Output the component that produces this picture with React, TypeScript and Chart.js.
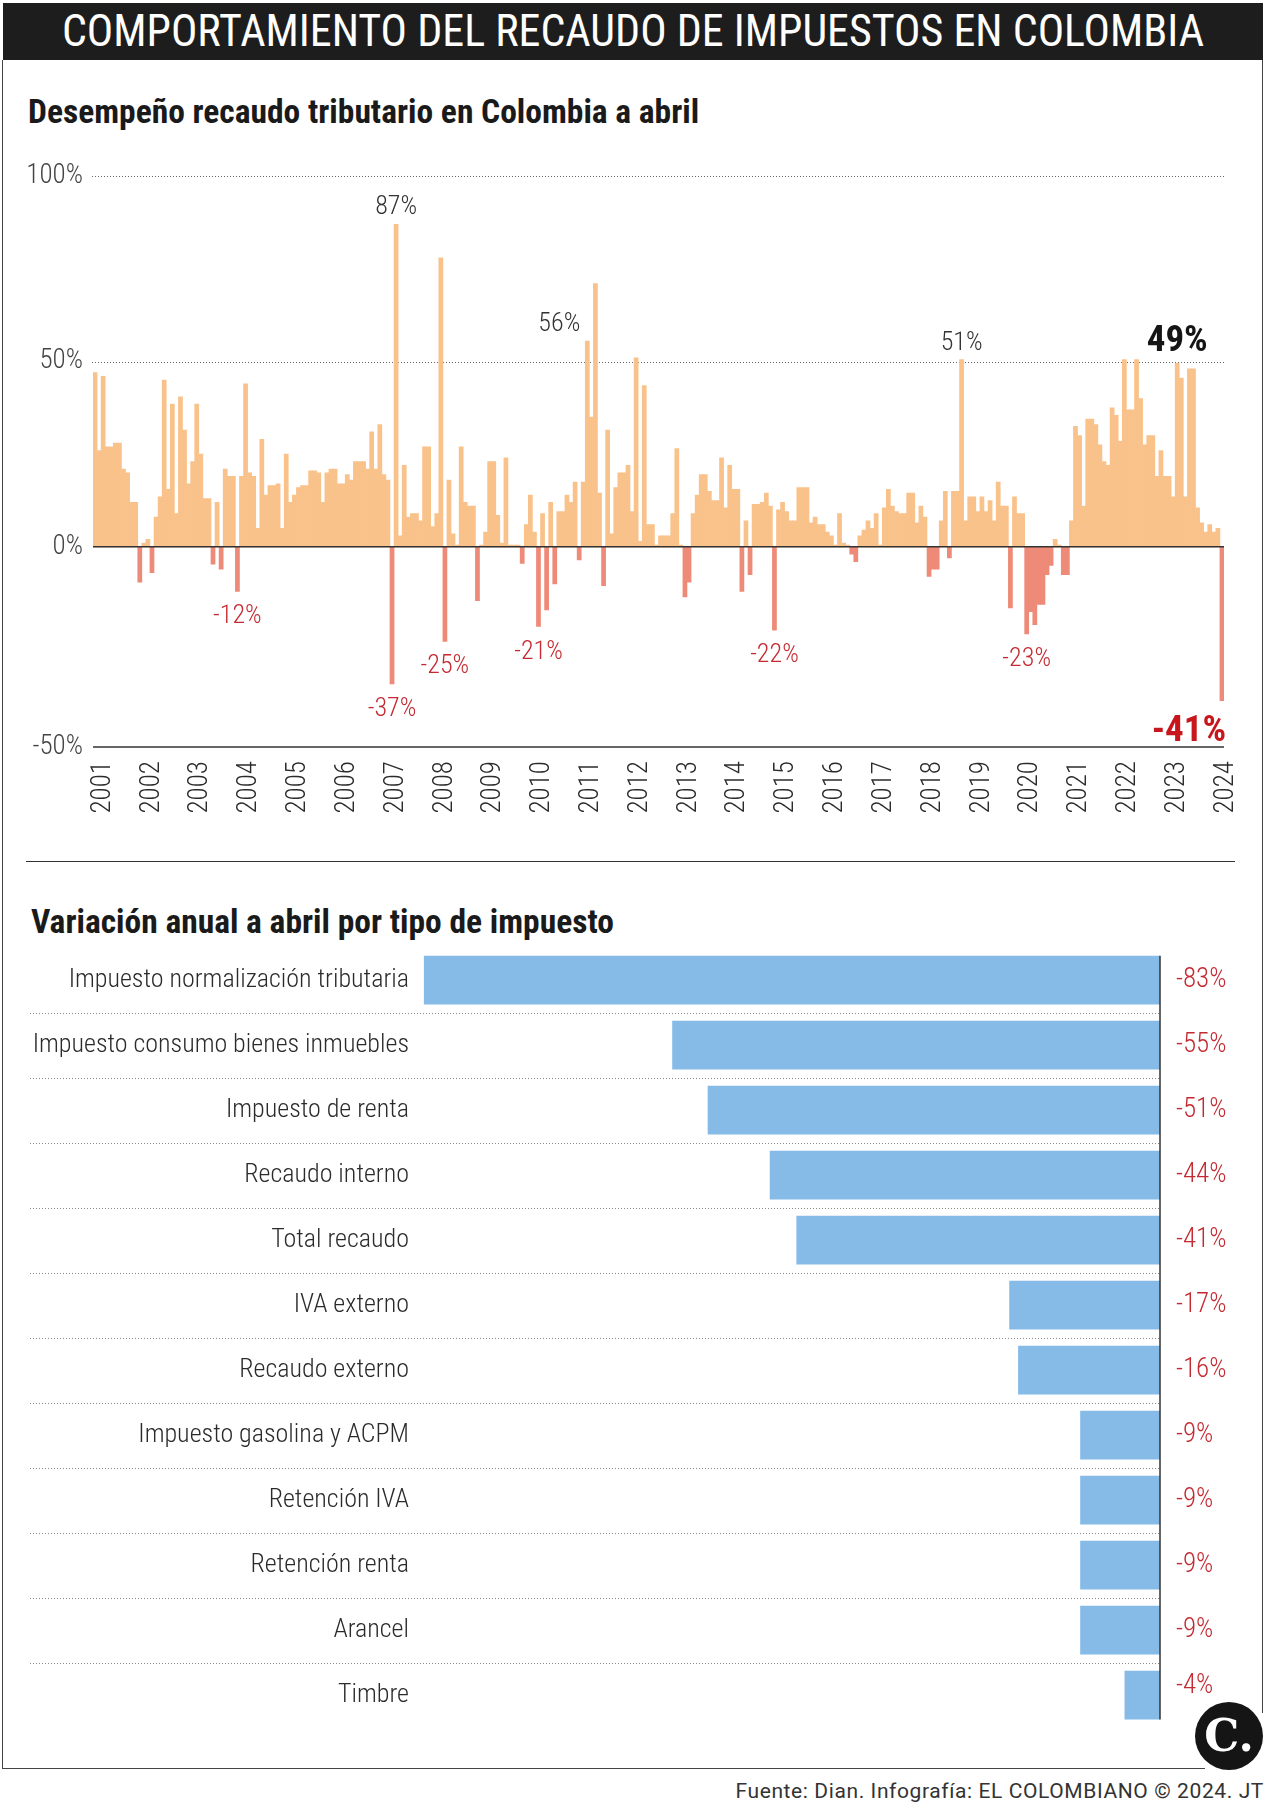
import React, { useEffect, useRef } from 'react';
import { Chart, registerables } from 'chart.js';

Chart.register(...registerables);

// ---------- DATA: monthly annual variation (%) of tax collection ----------
const years = [2001, 2002, 2003, 2004, 2005, 2006, 2007, 2008, 2009, 2010, 2011, 2012, 2013, 2014, 2015, 2016, 2017, 2018, 2019, 2020, 2021, 2022, 2023, 2024];
const v2001 = [47, 26, 46, 27, 27, 28, 28, 21, 20, 12, 12, -9.5];
const v2002 = [1, 2, -7, 8, 13.5, 45, 15.5, 38.5, 9, 40.5, 31.5, 17];
const v2003 = [23, 38.5, 25, 13, 13, -4.7, 12, -6, 21, 19, 19, -12];
const v2004 = [19, 44, 20, 19, 5, 29, 14, 16.5, 16.5, 17, 5, 25];
const v2005 = [12, 14, 16, 16.5, 16.5, 20.5, 20.5, 20, 12, 20, 21, 21];
const v2006 = [17, 17, 19.5, 18, 23, 23, 23, 21, 31, 21, 33, 19.5];
const v2007 = [18, -37, 87, 3, 22, 8, 9, 9, 7, 27, 27, 5.5];
const v2008 = [9, 78, -25.5, 18, 3.5, 0.5, 27, 12, 11, 11, -14.5, 0.5];
const v2009 = [4, 23, 23, 8.5, 1, 24, 0.5, 0.5, 0.5, -4.5, 6, 14];
const v2010 = [4, -21.5, 9, -17, 12, -10, 9.5, 9.5, 14, 12, 17.5, -3.5];
const v2011 = [17.5, 55.5, 35, 71, 14.5, -10.5, 31.5, 3.5, 16, 20, 20, 22];
const v2012 = [9.5, 51, 1.5, 43.5, 6, 6, 0.5, 3, 3, 3, 9, 26.5];
const v2013 = [0.5, -13.5, -9.5, 9, 14, 19.5, 19.5, 15, 12.5, 12.5, 24, 10.5];
const v2014 = [22, 15.5, 15.5, -12, 7, -7.5, 11.5, 11.5, 12, 14.5, 11, -22.5];
const v2015 = [10, 12, 9.5, 7, 7, 16, 16, 16, 6.5, 8, 6, 6];
const v2016 = [4, 3, 0.5, 9, 1, 0.5, -2, -4, 3, 4.5, 7, 5];
const v2017 = [9, 0.5, 10.5, 15.5, 11, 9.5, 9, 9, 14.5, 14.5, 6.5, 11];
const v2018 = [8, -8, -6, -6, 7, 15, -3, 15, 15, 50.5, 7, 13.5];
const v2019 = [13.5, 9.5, 13.5, 9.5, 12.5, 7, 17.5, 11, 11, -16.5, 13.5, 9];
const v2020 = [9, -23.5, -17.5, -21, -15.5, -15.5, -7.5, -5, 2, 0.5, -7.5, -7.5];
const v2021 = [7, 32.5, 30, 11, 34.5, 34.5, 33, 27.5, 23, 22, 37.5, 35.5];
const v2022 = [28.5, 50.5, 37, 37, 50.5, 40, 27.5, 30, 30, 19, 26, 19];
const v2023 = [19, 13.5, 49.5, 45.5, 13.5, 48, 48, 10.5, 6.5, 4, 6, 4];
const v2024 = [5, -41.5];
const monthlyByYear = [v2001, v2002, v2003, v2004, v2005, v2006, v2007, v2008, v2009, v2010, v2011, v2012, v2013, v2014, v2015, v2016, v2017, v2018, v2019, v2020, v2021, v2022, v2023, v2024];

// highlighted bars (year, month index within the year array)
const notes = [
  { year: 2007, m: 2, text: '87%' },
  { year: 2011, m: 1, text: '56%' },
  { year: 2018, m: 9, text: '51%' },
  { year: 2023, m: 2, text: '49%' },
  { year: 2003, m: 11, text: '-12%' },
  { year: 2007, m: 1, text: '-37%' },
  { year: 2008, m: 2, text: '-25%' },
  { year: 2010, m: 1, text: '-21%' },
  { year: 2014, m: 11, text: '-22%' },
  { year: 2020, m: 1, text: '-23%' },
  { year: 2024, m: 1, text: '-41%' },
];

const yTicks = [-54, 0, 50, 100];

// ---------- DATA: variation by tax type ----------
const taxCategories = [
  'Impuesto normalización tributaria',
  'Impuesto consumo bienes inmuebles',
  'Impuesto de renta',
  'Recaudo interno',
  'Total recaudo',
  'IVA externo',
  'Recaudo externo',
  'Impuesto gasolina y ACPM',
  'Retención IVA',
  'Retención renta',
  'Arancel',
  'Timbre',
];
const taxValues = [-83, -55, -51, -44, -41, -17, -16, -9, -9, -9, -9, -4];

// ---------- STYLE ----------
const COND = "'Roboto Condensed', 'Liberation Sans Narrow', 'DejaVu Sans Condensed', Roboto, sans-serif";
const POS = '#f9c28b';
const NEG = '#ee8a78';
const BLUE = '#86bbe8';
const DARK = '#2b2b2b';
const RED = '#c42a32';

function TrendChart() {
  const ref = useRef<HTMLCanvasElement>(null);
  useEffect(() => {
    const values = monthlyByYear.flat();
    const labels = monthlyByYear.flatMap((arr, k) => arr.map(() => String(years[k])));
    const starts: number[] = [];
    let acc = 0;
    monthlyByYear.forEach((arr) => { starts.push(acc); acc += arr.length; });
    const yearStartSet = new Set(starts);

    const gridPlugin = {
      id: 'grid',
      beforeDatasetsDraw(chart: any) {
        const { ctx, chartArea, scales } = chart;
        ctx.save();
        ctx.strokeStyle = '#666';
        ctx.lineWidth = 1;
        ctx.setLineDash([1, 2]);
        [100, 50].forEach((v) => {
          const y = Math.round(scales.y.getPixelForValue(v)) + 0.5;
          ctx.beginPath();
          ctx.moveTo(chartArea.left - 1, y);
          ctx.lineTo(chartArea.right, y);
          ctx.stroke();
        });
        ctx.restore();
      },
      afterDatasetsDraw(chart: any) {
        const { ctx, chartArea, scales } = chart;
        ctx.save();
        ctx.strokeStyle = '#333';
        ctx.lineWidth = 1.5;
        [0, yTicks[0]].forEach((v) => {
          const y = scales.y.getPixelForValue(v);
          ctx.beginPath();
          ctx.moveTo(chartArea.left, y);
          ctx.lineTo(chartArea.right, y);
          ctx.stroke();
        });
        // annotations
        notes.forEach((n) => {
          const k = years.indexOf(n.year);
          const idx = starts[k] + n.m;
          const v = monthlyByYear[k][n.m];
          const el = chart.getDatasetMeta(0).data[idx];
          const x = el.x;
          const yv = scales.y.getPixelForValue(v);
          const bold = n.year === 2023 || n.year === 2024;
          const neg = v < 0;
          ctx.font = bold ? `700 37px ${COND}` : `300 26px ${COND}`;
          ctx.fillStyle = neg ? (bold ? '#c8161d' : RED) : (bold ? '#151515' : '#333');
          ctx.textBaseline = 'alphabetic';
          let tx = x;
          ctx.textAlign = 'center';
          if (n.year === 2011) tx = x - 28;
          if (n.year === 2024) { ctx.textAlign = 'right'; tx = chartArea.right + 2; }
          const ty = neg ? yv + (bold ? 40 : 32) : yv - (bold ? 12 : 10);
          ctx.fillText(n.text, tx, ty);
        });
        ctx.restore();
      },
    };

    const font = { family: COND, size: 27, weight: '300' as any };
    const chart = new Chart(ref.current as HTMLCanvasElement, {
      type: 'bar',
      data: {
        labels,
        datasets: [{
          data: values,
          backgroundColor: values.map((v) => (v < 0 ? NEG : POS)),
          borderWidth: 0,
          barPercentage: 1,
          categoryPercentage: 1,
        }],
      },
      options: {
        animation: false,
        responsive: false,
        maintainAspectRatio: false,
        layout: { padding: { left: 0, right: 46, top: 23, bottom: 0 } },
        plugins: { legend: { display: false }, tooltip: { enabled: false } },
        scales: {
          x: {
            grid: { display: false, drawTicks: false },
            border: { display: false },
            ticks: {
              autoSkip: false,
              maxRotation: 90,
              minRotation: 90,
              padding: 14,
              labelOffset: 8,
              color: DARK,
              font,
              callback: (_v: any, i: number) => (yearStartSet.has(i) ? labels[i] : ''),
            },
            afterFit: (s: any) => { s.height = 73; },
          },
          y: {
            min: yTicks[0],
            max: yTicks[yTicks.length - 1],
            grid: { display: false, drawTicks: false },
            border: { display: false },
            afterBuildTicks: (s: any) => { s.ticks = yTicks.map((v) => ({ value: v })); },
            ticks: {
              padding: 10,
              color: '#444',
              font,
              callback: (v: any) => (v === yTicks[0] ? '-50%' : `${v}%`),
            },
            afterFit: (s: any) => { s.width = 93; },
          },
        },
      },
      plugins: [gridPlugin],
    });
    return () => chart.destroy();
  }, []);
  return (
    <canvas
      ref={ref}
      width={1270}
      height={670}
      style={{ position: 'absolute', left: 0, top: 150, width: 1270, height: 670 }}
    />
  );
}

function TaxChart() {
  const ref = useRef<HTMLCanvasElement>(null);
  useEffect(() => {
    const sepPlugin = {
      id: 'sep',
      beforeDatasetsDraw(chart: any) {
        const { ctx, scales } = chart;
        ctx.save();
        ctx.strokeStyle = '#888';
        ctx.lineWidth = 1;
        ctx.setLineDash([1, 2]);
        for (let i = 0; i < taxCategories.length - 1; i++) {
          const y = Math.round((scales.y.getPixelForValue(i) + scales.y.getPixelForValue(i + 1)) / 2) + 0.5;
          ctx.beginPath();
          ctx.moveTo(30, y);
          ctx.lineTo(scales.x.getPixelForValue(0), y);
          ctx.stroke();
        }
        ctx.restore();
      },
      afterDatasetsDraw(chart: any) {
        const { ctx, scales, chartArea } = chart;
        const bars = chart.getDatasetMeta(0).data;
        ctx.save();
        const x0 = scales.x.getPixelForValue(0);
        const first = bars[0];
        const last = bars[bars.length - 1];
        ctx.strokeStyle = '#333';
        ctx.lineWidth = 1.5;
        ctx.beginPath();
        ctx.moveTo(x0, first.y - first.height / 2);
        ctx.lineTo(x0, last.y + last.height / 2);
        ctx.stroke();
        ctx.font = `300 27px ${COND}`;
        ctx.fillStyle = RED;
        ctx.textAlign = 'left';
        ctx.textBaseline = 'middle';
        bars.forEach((b: any, i: number) => {
          const dy = i === bars.length - 1 ? -9 : 0;
          ctx.fillText(`${Math.round(taxValues[i])}%`, chartArea.right + 16, b.y + dy);
        });
        ctx.restore();
      },
    };
    const chart = new Chart(ref.current as HTMLCanvasElement, {
      type: 'bar',
      data: {
        labels: taxCategories,
        datasets: [{
          data: taxValues,
          backgroundColor: BLUE,
          borderWidth: 0,
          barPercentage: 0.75,
          categoryPercentage: 1,
        }],
      },
      options: {
        indexAxis: 'y',
        animation: false,
        responsive: false,
        maintainAspectRatio: false,
        layout: { padding: { left: 0, right: 110, top: 7.5, bottom: 12.5 } },
        plugins: { legend: { display: false }, tooltip: { enabled: false } },
        scales: {
          x: { min: -84, max: 0, display: false },
          y: {
            grid: { display: false, drawTicks: false },
            border: { display: false },
            ticks: { padding: 6, color: DARK, font: { family: COND, size: 26, weight: '300' as any } },
            afterFit: (s: any) => { s.width = 415; s.paddingTop = 0; s.paddingBottom = 0; },
          },
        },
      },
      plugins: [sepPlugin],
    });
    return () => chart.destroy();
  }, []);
  return (
    <canvas
      ref={ref}
      width={1270}
      height={800}
      style={{ position: 'absolute', left: 0, top: 940, width: 1270, height: 800 }}
    />
  );
}

export default function App() {
  return (
    <div style={{ position: 'absolute', left: 0, top: 0, width: 1270, height: 1807, background: '#fff', overflow: 'hidden' }}>
      <div style={{ position: 'absolute', left: 3, top: 3, width: 1260, height: 57, background: '#1d1d1d', color: '#fff', fontFamily: COND, fontWeight: 400, fontSize: 44, lineHeight: '57px', textAlign: 'center', whiteSpace: 'nowrap' }}>
        COMPORTAMIENTO DEL RECAUDO DE IMPUESTOS EN COLOMBIA
      </div>
      <div style={{ position: 'absolute', left: 2, top: 60, height: 1709, borderLeft: '1.5px solid #444' }} />
      <div style={{ position: 'absolute', left: 1262, top: 60, height: 1653, borderLeft: '1.5px solid #444' }} />
      <div style={{ position: 'absolute', left: 2, top: 1768, width: 1203, borderTop: '1.5px solid #444' }} />
      <div style={{ position: 'absolute', left: 28, top: 91, fontFamily: COND, fontWeight: 700, fontSize: 33.5, lineHeight: '42px', color: '#1a1a1a', whiteSpace: 'nowrap' }}>
        Desempeño recaudo tributario en Colombia a abril
      </div>
      <TrendChart />
      <div style={{ position: 'absolute', left: 26, top: 861, width: 1209, borderTop: '1.5px solid #333' }} />
      <div style={{ position: 'absolute', left: 31, top: 901, fontFamily: COND, fontWeight: 700, fontSize: 33.5, lineHeight: '42px', color: '#1a1a1a', whiteSpace: 'nowrap' }}>
        Variación anual a abril por tipo de impuesto
      </div>
      <TaxChart />
      <div style={{ position: 'absolute', left: 1195, top: 1702, width: 68, height: 68, borderRadius: '50%', background: '#151515', color: '#fff', fontFamily: "'DejaVu Serif', 'Liberation Serif', serif", fontWeight: 700, fontSize: 44, lineHeight: '68px', textAlign: 'center' }}>
        C.
      </div>
      <div style={{ position: 'absolute', right: 6, top: 1778, fontFamily: "Roboto, 'Liberation Sans', sans-serif", fontSize: 21, letterSpacing: '0.6px', color: '#333', lineHeight: '26px', whiteSpace: 'nowrap' }}>
        Fuente: Dian. Infografía: EL COLOMBIANO © 2024. JT
      </div>
    </div>
  );
}
